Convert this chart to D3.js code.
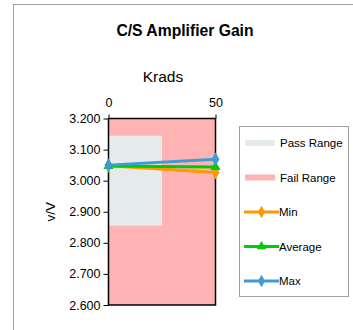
<!DOCTYPE html>
<html>
<head>
<meta charset="utf-8">
<script src="https://cdn.jsdelivr.net/npm/d3@7"></script>
<style>
  html, body { margin: 0; padding: 0; background: #fff; }
  svg { display: block; font-family: "Liberation Sans", Arial, sans-serif; }
</style>
</head>
<body>
<svg id="chart" width="353" height="330"></svg>
<script>
// Dose points (Krads) and measured gain per series
const krads = [0, 50];
const minGain = [3.048, 3.026];
const avgGain = [3.047, 3.044];
const maxGain = [3.050, 3.069];

// Limit bands
const passKrads = [0, 25];
const passLimits = [2.855, 3.145];
const failKrads = [0, 50];
const failLimits = [2.6, 3.2];

const yTicks = [2.6, 2.7, 2.8, 2.9, 3.0, 3.1, 3.2];
const xTicks = [0, 50];

const seriesNames = ["Min", "Average", "Max"];
const seriesColors = ["#ff9900", "#00cc00", "#3d9bd6"];
const seriesMarkers = [d3.symbolDiamond, d3.symbolTriangle, d3.symbolDiamond];

const svg = d3.select("#chart");

// outer chart frame
svg.append("rect")
  .attr("x", 13.5).attr("y", 4.5)
  .attr("width", 345).attr("height", 335)
  .attr("fill", "none").attr("stroke", "#a0a0a0").attr("stroke-width", 1);

const plot = { left: 108.5, right: 215.5, top: 118.5, bottom: 305 };

const x = d3.scaleLinear().domain([0, 50]).range([plot.left, plot.right]);
const y = d3.scaleLinear().domain([2.6, 3.2]).range([plot.bottom, plot.top]);

// bands
svg.append("rect")
  .attr("x", x(failKrads[0])).attr("y", y(failLimits[1]))
  .attr("width", x(failKrads[1]) - x(failKrads[0]))
  .attr("height", y(failLimits[0]) - y(failLimits[1]))
  .attr("fill", "#ffb3b3");
svg.append("rect")
  .attr("x", x(passKrads[0])).attr("y", y(passLimits[1]))
  .attr("width", x(passKrads[1]) - x(passKrads[0]))
  .attr("height", y(passLimits[0]) - y(passLimits[1]))
  .attr("fill", "#e5eaea");

// plot frame
svg.append("rect")
  .attr("x", plot.left).attr("y", plot.top)
  .attr("width", plot.right - plot.left).attr("height", plot.bottom - plot.top)
  .attr("fill", "none").attr("stroke", "#000").attr("stroke-width", 1.5);

// axes
const yAxis = svg.append("g")
  .attr("transform", `translate(${plot.left},0)`)
  .call(d3.axisLeft(y).tickValues(yTicks).tickFormat(d3.format(".3f")).tickSize(5).tickPadding(3));
yAxis.select(".domain").remove();
yAxis.selectAll("text").attr("font-size", 12.5).attr("fill", "#000").attr("font-family", "Liberation Sans, Arial, sans-serif");

const xAxis = svg.append("g")
  .attr("transform", `translate(0,${plot.top})`)
  .call(d3.axisTop(x).tickValues(xTicks).tickFormat(d3.format("d")).tickSize(4).tickPadding(8));
xAxis.select(".domain").remove();
xAxis.selectAll("text").attr("font-size", 12.5).attr("fill", "#000").attr("font-family", "Liberation Sans, Arial, sans-serif");

// titles
svg.append("text")
  .attr("x", 185).attr("y", 36)
  .attr("text-anchor", "middle").attr("font-size", 15.7).attr("font-weight", "bold")
  .text("C/S Amplifier Gain");
svg.append("text")
  .attr("x", 163).attr("y", 82)
  .attr("text-anchor", "middle").attr("font-size", 15.5)
  .text("Krads");
svg.append("text")
  .attr("transform", `translate(55,${(plot.top + plot.bottom) / 2}) rotate(-90)`)
  .attr("text-anchor", "middle").attr("font-size", 13.5)
  .text("v/V");

// series
const series = [minGain, avgGain, maxGain];
const line = d3.line().x((d, i) => x(krads[i])).y(d => y(d));
series.forEach((vals, s) => {
  const g = svg.append("g");
  g.append("path")
    .datum(vals)
    .attr("d", line)
    .attr("fill", "none")
    .attr("stroke", seriesColors[s])
    .attr("stroke-width", 3);
  g.selectAll("path.mk")
    .data(vals)
    .join("path")
    .attr("class", "mk")
    .attr("transform", (d, i) => `translate(${x(krads[i])},${y(d)})`)
    .attr("d", d3.symbol().type(seriesMarkers[s]).size(s === 1 ? 45 : 55))
    .attr("fill", seriesColors[s]);
});

// legend
const legend = svg.append("g");
legend.append("rect")
  .attr("x", 239.5).attr("y", 126.5).attr("width", 109).attr("height", 170)
  .attr("fill", "#fff").attr("stroke", "#a0a0a0").attr("stroke-width", 1);

const legendItems = [
  { name: "Pass Range", type: "band", color: "#e5eaea" },
  { name: "Fail Range", type: "band", color: "#ffb3b3" },
  ...seriesNames.map((n, i) => ({ name: n, type: "line", color: seriesColors[i], marker: seriesMarkers[i] }))
];
const legendY = d3.scalePoint().domain(legendItems.map(d => d.name)).range([143, 281]);

legendItems.forEach(item => {
  const cy = legendY(item.name);
  if (item.type === "band") {
    legend.append("rect")
      .attr("x", 245).attr("y", cy - 3).attr("width", 30).attr("height", 6)
      .attr("fill", item.color);
  } else {
    legend.append("line")
      .attr("x1", 244).attr("x2", 279).attr("y1", cy).attr("y2", cy)
      .attr("stroke", item.color).attr("stroke-width", 3);
    legend.append("path")
      .attr("transform", `translate(261.5,${cy})`)
      .attr("d", d3.symbol().type(item.marker).size(item.marker === d3.symbolTriangle ? 40 : 45))
      .attr("fill", item.color);
  }
  legend.append("text")
    .attr("x", item.type === "band" ? 280 : 279).attr("y", cy + 4)
    .attr("font-size", 11.5).attr("fill", "#000")
    .text(item.name);
});
</script>
</body>
</html>
